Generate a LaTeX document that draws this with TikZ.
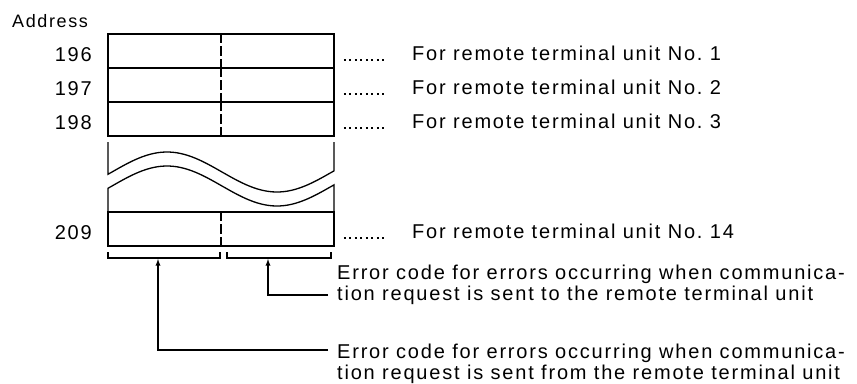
\documentclass[tikz,border=0pt]{standalone}
\usepackage{fontspec}
\setmainfont{Liberation Sans}[LetterSpace=9.0]
\usetikzlibrary{positioning}
\begin{document}
\begin{tikzpicture}[
				x=1pt, y=-1pt,
				cell/.style={draw, line width=1.5pt, minimum width=226pt, minimum height=34pt, inner sep=0pt},
				split/.style={line width=1.2pt, dash pattern=on 10pt off 3pt},
				lab/.style={inner sep=0pt, font=\fontsize{20}{21}\selectfont},
				leader/.style={line width=1.8pt, dash pattern=on 1.8pt off 3.7pt, shorten <=9pt, shorten >=25pt},
				cut/.style={line width=1.3pt},
				brace/.style={line width=1.2pt},
				arr/.style={-latex, line width=1.3pt, shorten <=9pt}
				]
				\useasboundingbox (0,0) rectangle (857,383);
				\node[lab, font=\fontsize{18}{20}\selectfont, anchor=base west] (addr) at (12,27) {Address};
				\foreach \n/\y/\k in {196/51/1, 197/85/2, 198/119/3, 209/229/14} {
					\node[cell] (r\n) at (221,\y) {};
					\draw[split] (r\n.north) -- (r\n.south);
					\node[lab, anchor=base east] (n\n) at (92,\y+10) {\n};
					\node[lab, anchor=base west] (t\n) at (412,\y+9) {For remote terminal unit No.~\k};
					\draw[leader] (r\n.east |- t\n.base) -- (t\n.base west);
				}
				\draw[cut] (108,142) -- plot[domain=108:334, samples=60, smooth] (\x,{172-20*cos(1.6364*(\x-167))}) -- (334,142);
				\draw[cut] (108,212) -- plot[domain=108:334, samples=60, smooth] (\x,{186-20*cos(1.6364*(\x-167))}) -- (334,212);
				\draw[brace] (108,252) |- (220,258) -- (220,252);
				\draw[brace] (227,252) |- (331,258) -- (331,252);
				\coordinate (bl) at (158,259);
				\coordinate (br) at (268,259);
				\node[lab, align=left, anchor=base west] (e1) at (337,300) {Error code for errors occurring when communica-\\tion request is sent to the remote terminal unit};
				\node[lab, align=left, anchor=base west] (e2) at (337,379) {Error code for errors occurring when communica-\\tion request is sent from the remote terminal unit};
				\draw[arr] ([yshift=5pt]e1.base west) -| (br);
				\draw[arr] ([yshift=29pt]e2.base west) -| (bl);
			\end{tikzpicture}
\end{document}
